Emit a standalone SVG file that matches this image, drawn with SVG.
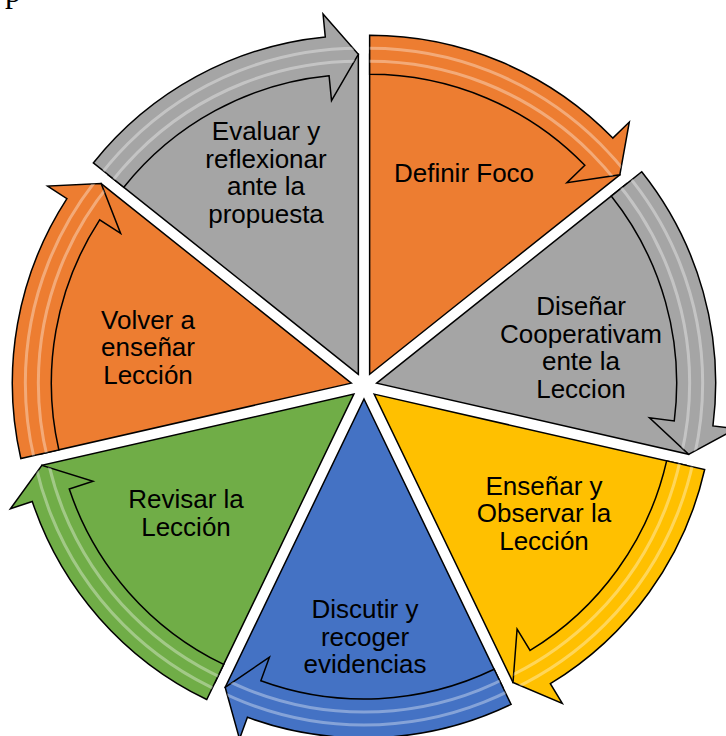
<svg xmlns="http://www.w3.org/2000/svg" xmlns:xlink="http://www.w3.org/1999/xlink" width="726" height="736" viewBox="0 0 726 736">
<style>
.seg{stroke:#000;stroke-width:1.5;stroke-linejoin:miter}
.or{fill:#ED7D31}.gr{fill:#A5A5A5}.go{fill:#FFC000}.bl{fill:#4472C4}.gn{fill:#70AD47}
.lbl{font-family:"Liberation Sans",Arial,sans-serif;font-size:26px;fill:#000;text-anchor:middle}
.hl{fill:none;stroke:#fff;stroke-opacity:.35;stroke-width:3}
.pg{font-family:"Liberation Serif","Times New Roman",serif;font-size:32px;fill:#000}
</style>
<defs>
<path id="b0" d="M369.64,74.29 L369.64,35.29 A339,339 0 0 1 612.79,138.07 L629.29,122.05 L619.83,174.77 L566.89,182.67 L584.82,165.25 A300,300 0 0 0 369.64,74.29 Z"/>
<path id="b1" d="M611.22,196.06 L641.71,171.75 A339,339 0 0 1 712.95,425.93 L735.77,428.84 L688.65,454.32 L649.47,417.85 L674.27,421.01 A300,300 0 0 0 611.22,196.06 Z"/>
<path id="b2" d="M666.64,460.87 L704.66,469.54 A339,339 0 0 1 550.35,683.73 L562.30,703.38 L513.00,682.42 L517.09,629.05 L530.08,650.41 A300,300 0 0 0 666.64,460.87 Z"/>
<path id="b3" d="M494.17,669.29 L511.09,704.43 A339,339 0 0 1 247.42,717.32 L239.51,738.92 L225.16,687.31 L269.43,657.23 L260.83,680.70 A300,300 0 0 0 494.17,669.29 Z"/>
<path id="b4" d="M223.67,664.40 L206.75,699.54 A339,339 0 0 1 32.28,501.44 L10.46,508.72 L41.86,465.32 L92.99,481.17 L69.27,489.09 A300,300 0 0 0 223.67,664.40 Z"/>
<path id="b5" d="M58.85,449.87 L20.83,458.54 A339,339 0 0 1 66.93,198.62 L47.63,186.10 L101.14,183.59 L120.62,233.45 L99.65,219.84 A300,300 0 0 0 58.85,449.87 Z"/>
<path id="b6" d="M123.81,187.24 L93.32,162.93 A339,339 0 0 1 325.28,36.91 L323.04,14.02 L358.36,54.29 L331.52,100.60 L329.09,75.72 A300,300 0 0 0 123.81,187.24 Z"/>
<clipPath id="c0"><use xlink:href="#b0"/></clipPath>
<clipPath id="c1"><use xlink:href="#b1"/></clipPath>
<clipPath id="c2"><use xlink:href="#b2"/></clipPath>
<clipPath id="c3"><use xlink:href="#b3"/></clipPath>
<clipPath id="c4"><use xlink:href="#b4"/></clipPath>
<clipPath id="c5"><use xlink:href="#b5"/></clipPath>
<clipPath id="c6"><use xlink:href="#b6"/></clipPath>
</defs>
<rect width="726" height="736" fill="#fff"/>
<text class="pg" x="5" y="1.5">p</text>

<g id="node-definir">
<path class="seg or" d="M369.64,374.29 L369.64,54.29 A320,320 0 0 1 619.83,174.77 Z"/>
<text class="lbl" x="464" y="182">Definir Foco</text>
</g>
<g id="node-disenar">
<path class="seg gr" d="M376.67,383.11 L626.86,183.59 A320,320 0 0 1 688.65,454.32 Z"/>
<text class="lbl" x="581"><tspan x="581" y="315">Diseñar</tspan><tspan x="581" y="342.5">Cooperativam</tspan><tspan x="581" y="370">ente la</tspan><tspan x="581" y="397.5">Leccion</tspan></text>
</g>
<g id="node-ensenar">
<path class="seg go" d="M374.16,394.11 L686.14,465.32 A320,320 0 0 1 513.00,682.42 Z"/>
<text class="lbl" x="544"><tspan x="544" y="494.5">Enseñar y</tspan><tspan x="544" y="522">Observar la</tspan><tspan x="544" y="549.5">Lección</tspan></text>
</g>
<g id="node-discutir">
<path class="seg bl" d="M364,399 L502.84,687.31 A320,320 0 0 1 225.16,687.31 Z"/>
<text class="lbl" x="365"><tspan x="365" y="618">Discutir y</tspan><tspan x="365" y="645.5">recoger</tspan><tspan x="365" y="673">evidencias</tspan></text>
</g>
<g id="node-revisar">
<path class="seg gn" d="M353.84,394.11 L215.00,682.42 A320,320 0 0 1 41.86,465.32 Z"/>
<text class="lbl" x="186"><tspan x="186" y="508">Revisar la</tspan><tspan x="186" y="535.5">Lección</tspan></text>
</g>
<g id="node-volver">
<path class="seg or" d="M351.33,383.11 L39.35,454.32 A320,320 0 0 1 101.14,183.59 Z"/>
<text class="lbl" x="148"><tspan x="148" y="328.5">Volver a</tspan><tspan x="148" y="356">enseñar</tspan><tspan x="148" y="383.5">Lección</tspan></text>
</g>
<g id="node-evaluar">
<path class="seg gr" d="M358.36,374.29 L108.17,174.77 A320,320 0 0 1 358.36,54.29 Z"/>
<text class="lbl" x="266"><tspan x="266" y="140">Evaluar y</tspan><tspan x="266" y="167.5">reflexionar</tspan><tspan x="266" y="195">ante la</tspan><tspan x="266" y="222.5">propuesta</tspan></text>
</g>

<g id="connectors">
<use xlink:href="#b0" class="seg or"/>
<g clip-path="url(#c0)"><circle class="hl" cx="369.64" cy="374.29" r="313"/><circle class="hl" cx="369.64" cy="374.29" r="326"/></g>
<use xlink:href="#b1" class="seg gr"/>
<g clip-path="url(#c1)"><circle class="hl" cx="376.67" cy="383.11" r="313"/><circle class="hl" cx="376.67" cy="383.11" r="326"/></g>
<use xlink:href="#b2" class="seg go"/>
<g clip-path="url(#c2)"><circle class="hl" cx="374.16" cy="394.11" r="313"/><circle class="hl" cx="374.16" cy="394.11" r="326"/></g>
<use xlink:href="#b3" class="seg bl"/>
<g clip-path="url(#c3)"><circle class="hl" cx="364" cy="399" r="313"/><circle class="hl" cx="364" cy="399" r="326"/></g>
<use xlink:href="#b4" class="seg gn"/>
<g clip-path="url(#c4)"><circle class="hl" cx="353.84" cy="394.11" r="313"/><circle class="hl" cx="353.84" cy="394.11" r="326"/></g>
<use xlink:href="#b5" class="seg or"/>
<g clip-path="url(#c5)"><circle class="hl" cx="351.33" cy="383.11" r="313"/><circle class="hl" cx="351.33" cy="383.11" r="326"/></g>
<use xlink:href="#b6" class="seg gr"/>
<g clip-path="url(#c6)"><circle class="hl" cx="358.36" cy="374.29" r="313"/><circle class="hl" cx="358.36" cy="374.29" r="326"/></g>
</g>
</svg>
